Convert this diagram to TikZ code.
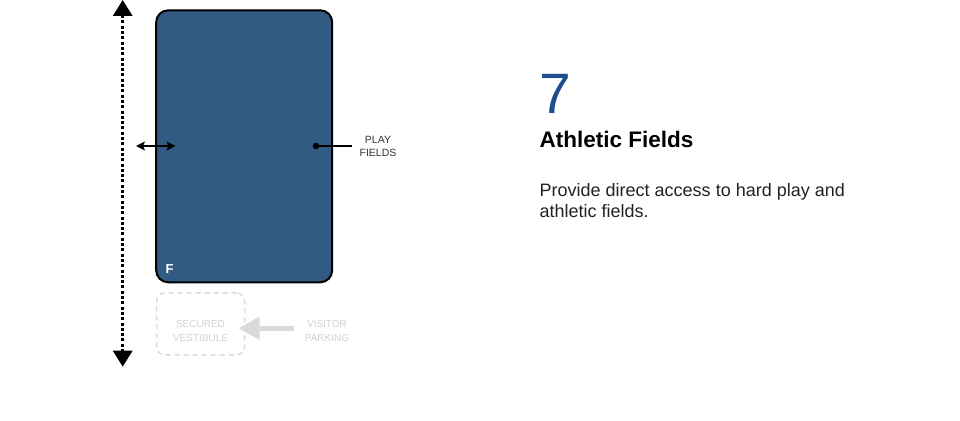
\documentclass[tikz,border=0pt]{standalone}
\usepackage{fontspec}
\setmainfont{Liberation Sans}
\usetikzlibrary{arrows.meta,positioning}
\definecolor{fieldblue}{RGB}{49,91,130}
\definecolor{numblue}{RGB}{31,78,140}
\definecolor{ghostline}{RGB}{218,218,218}
\definecolor{ghosttext}{RGB}{208,208,208}
\definecolor{labelgray}{RGB}{51,51,51}
\definecolor{bodygray}{RGB}{34,34,34}
\newcommand{\fsz}[2]{\fontsize{#1}{#2}\selectfont}

\tikzset{
field/.style={draw=black,line width=2pt,fill=fieldblue,rounded corners=12pt,minimum width=176pt,minimum height=272pt,inner sep=0pt},
ghostbox/.style={draw=ghostline,line width=1.5pt,dash pattern=on 5pt off 4pt,rounded corners=8pt,minimum width=88pt,minimum height=62pt},
ghostlabel/.style={text=ghosttext,align=center,font=\fsz{10}{14}},
callout/.style={text=labelgray,align=center,font=\fsz{10.5}{13}}
}

\begin{document}
\begin{tikzpicture}[x=1pt,y=-1pt,inner sep=0pt]
\useasboundingbox (0,0) rectangle (960,420);

\node[field]	(fld)	at (244.2,146.3)	{};
\node[text=white,font=\bfseries\fsz{13}{13},anchor=base west]	(flbl)	at (165.5,273)	{F};

\coordinate	(axtop)	at (122.7,0);
\coordinate	(axbot)	at (122.7,366.7);
\draw[line width=3.3pt,dash pattern=on 3pt off 2.3pt,{Triangle[length=16pt,width=19pt]}-{Triangle[length=16pt,width=19pt]}] (axtop) -- (axbot);

\coordinate	(acl)	at (136,146);
\coordinate	(acr)	at (175.5,146);
\draw[line width=1.3pt,{Stealth[length=9pt,width=9pt,inset=2pt]}-{Stealth[length=9pt,width=9pt,inset=2pt]}] (acl) -- (acr);

\node[circle,fill=black,minimum size=6.6pt]	(dot)	at (316,146)	{};
\coordinate	(callend)	at (352,146);
\draw[line width=1.3pt] (dot.center) -- (callend);
\node[callout]	(playlbl)	at (378,146)	{PLAY\\FIELDS};

\node[ghostbox]	(vest)	at (200.5,323.8)	{};
\node[ghostlabel]	(vestlbl)	at (200.5,331.5)	{SECURED\\VESTIBULE};
\node[ghostlabel]	(park)	at (327,331)	{VISITOR\\PARKING};
\coordinate	(parkarr)	at (294,328.3);
\coordinate	(vestin)	at (238.5,328.3);
\draw[ghostline,line width=4.5pt,-{Triangle[length=21pt,width=22pt]}] (parkarr) -- (vestin);

\node[anchor=base west,text=numblue,font=\fsz{57}{57}]	(num)	at (539,113)	{7};
\node[anchor=base west,font=\bfseries\fsz{22.5}{27}]	(title)	at (539.5,147.5)	{Athletic Fields};
\node[anchor=base west,align=left,text=bodygray,font=\fsz{18}{21}]	(body)	at (539.5,217)	{Provide direct access to hard play and\\athletic fields.};
\end{tikzpicture}
\end{document}
